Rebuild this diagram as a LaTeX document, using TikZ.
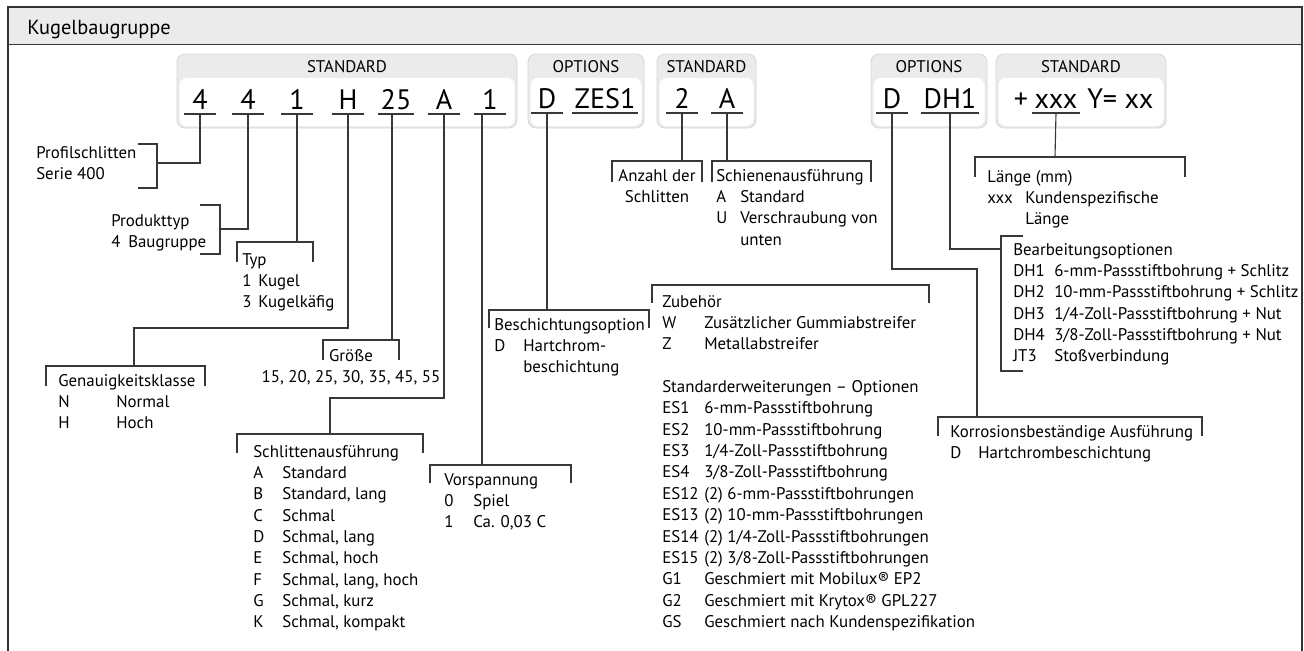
\documentclass[tikz,border=0pt]{standalone}
\usepackage{fontspec}
\setmainfont{PT Sans}
\definecolor{bandgray}{HTML}{EBEBEB}
\definecolor{boxedge}{HTML}{D6D6D6}
\definecolor{linegray}{HTML}{383838}
\newcommand\keylist[2]{\begin{tabular}[t]{@{}p{#1}@{}l@{}}#2\end{tabular}}
\newcommand\keyhead[1]{\multicolumn{2}{@{}l@{}}{#1}}

\begin{document}
\begin{tikzpicture}[x=0.025cm,y=-0.025cm,
    txt/.style={anchor=base west,inner sep=0pt,font=\fontsize{12}{15.2}\selectfont},
    ctxt/.style={txt,anchor=base},
    code/.style={anchor=south,inner xsep=0.05cm,inner ysep=0pt,minimum width=0.775cm,text depth=0.1cm,font=\fontsize{20}{20}\selectfont},
    head/.style={anchor=base,inner sep=0pt,font=\fontsize{12}{14}\selectfont},
    bracket/.style={draw=linegray,line width=0.8pt},
    link/.style={draw=linegray,line width=0.8pt},
    codebox/.style={fill=bandgray,draw=boxedge,line width=0.6pt,rounded corners=0.2cm}]
  \useasboundingbox (0,0) rectangle (1304,651);

  % frame and title band
  \fill[bandgray] (8,7) rectangle (1302,44);
  \draw[line width=0.6pt,draw=linegray] (8,44) -- (1302,44);
  \draw[line width=1.4pt,draw=black!80] (8,655) -- (8,7) -- (1302,7) -- (1302,655);
  \node[txt,font=\fontsize{14.5}{17}\selectfont] (title) at (27,34) {Kugelbaugruppe};

  % code boxes
  \foreach \l/\r/\t in {177/517/STANDARD,528/644/OPTIONS,657/756/STANDARD,871/987/OPTIONS,996/1166/STANDARD} {
    \draw[codebox] (\l,54) rectangle (\r,128);
    \fill[white,rounded corners=0.18cm] (\l+2.5,78) rectangle (\r-2.5,126);
    \node[head] (h\l) at ({(\l+\r)/2},72) {\t};
  }

  % code characters
  \node[code] (c1) at (200,114) {4};
  \node[code] (c2) at (248,114) {4};
  \node[code] (c3) at (297,114) {1};
  \node[code] (c4) at (348,114) {H};
  \node[code] (c5) at (396,114) {25};
  \node[code] (c6) at (444,114) {A};
  \node[code] (c7) at (490,114) {1};
  \node[code] (o1) at (547,113) {D};
  \node[code] (o2) at (605,113) {ZES1};
  \node[code] (s1) at (682,113) {2};
  \node[code] (s2) at (727,113) {A};
  \node[code] (p1) at (892,113) {D};
  \node[code] (p2) at (950,113) {DH1};
  \node[code] (plus) at (1021,113) {+};
  \node[code] (cx) at (1056,113) {xxx};
  \node[code,anchor=south west,inner xsep=0pt] (yv) at (1087,113) {Y= xx};
  \foreach \n in {c1,c2,c3,c4,c5,c6,c7,o1,o2,s1,s2,p1,p2,cx}
    \draw[link] (\n.south west) -- (\n.south east);

  % Profilschlitten
  \draw[bracket] (138,144) -| (157,188) -- (138,188);
  \coordinate (kPro) at (157,163);
  \draw[link] (c1.south) |- (kPro);
  \node[txt] (pro) at (36,158) {\begin{tabular}[t]{@{}l@{}}Profilschlitten\\Serie 400\end{tabular}};

  % Produkttyp
  \draw[bracket] (200,205) -| (220,254) -- (200,254);
  \coordinate (kProd) at (220,229);
  \draw[link] (c2.south) |- (kProd);
  \node[txt] (prod) at (111,226) {\keylist{0.425cm}{\keyhead{Produkttyp}\\4&Baugruppe}};

  % Typ
  \draw[bracket] (237,262) |- (313,242) -- (313,262);
  \coordinate (kTyp) at (297,242);
  \draw[link] (c3.south) -- (kTyp);
  \node[txt] (typ) at (242,265) {\keylist{0.4cm}{\keyhead{Typ}\\1&Kugel\\3&Kugelkäfig}};

  % Genauigkeitsklasse
  \draw[bracket] (46,386) |- (205,366) -- (205,386);
  \coordinate (kGen) at (134,366);
  \draw[link] (c4.south) -- ++(0,214) -| (kGen);
  \node[txt] (gen) at (58,386) {\keylist{1.45cm}{\keyhead{Genauigkeitsklasse}\\N&Normal\\H&Hoch}};

  % Groesse
  \draw[bracket] (323,360) |- (399,340) -- (399,360);
  \coordinate (kGr) at (392,340);
  \draw[link] (c5.south -| kGr) -- (kGr);
  \node[ctxt] (gr) at (351,361) {\begin{tabular}[t]{@{}c@{}}Größe\\15, 20, 25, 30, 35, 45, 55\end{tabular}};

  % Schlittenausfuehrung
  \draw[bracket] (237,453) |- (423,434) -- (423,453);
  \coordinate (kSchl) at (330,434);
  \draw[link] (c6.south) -- ++(0,284) -| (kSchl);
  \node[txt] (schl) at (253,457) {\keylist{0.725cm}{\keyhead{Schlittenausführung}\\
    A&Standard\\B&Standard, lang\\C&Schmal\\D&Schmal, lang\\E&Schmal, hoch\\
    F&Schmal, lang, hoch\\G&Schmal, kurz\\K&Schmal, kompakt}};

  % Vorspannung
  \draw[bracket] (430,483) |- (571,465) -- (571,483);
  \coordinate (kVor) at (482,465);
  \draw[link] (c7.south -| kVor) -- (kVor);
  \node[txt] (vor) at (444,485) {\keylist{0.725cm}{\keyhead{Vorspannung}\\0&Spiel\\1&Ca. 0,03 C}};

  % Beschichtungsoption
  \draw[bracket] (489,328) |- (649,310) -- (649,328);
  \coordinate (kBes) at (547,310);
  \draw[link] (o1.south) -- (kBes);
  \node[txt] (bes) at (494,330) {\keylist{0.725cm}{\keyhead{Beschichtungsoption}\\D&Hartchrom-\\&beschichtung}};

  % Zubehoer
  \draw[bracket] (652,303) |- (929,285) -- (929,303);
  \node[txt] (zub) at (662,307) {\keylist{1.05cm}{\keyhead{Zubehör}\\
    W&Zusätzlicher Gummiabstreifer\\Z&Metallabstreifer\\&\\
    \keyhead{Standarderweiterungen – Optionen}\\
    ES1&6-mm-Passstiftbohrung\\ES2&10-mm-Passstiftbohrung\\
    ES3&1/4-Zoll-Passstiftbohrung\\ES4&3/8-Zoll-Passstiftbohrung\\
    ES12&(2) 6-mm-Passstiftbohrungen\\ES13&(2) 10-mm-Passstiftbohrungen\\
    ES14&(2) 1/4-Zoll-Passstiftbohrungen\\ES15&(2) 3/8-Zoll-Passstiftbohrungen\\
    G1&Geschmiert mit Mobilux® EP2\\G2&Geschmiert mit Krytox® GPL227\\
    GS&Geschmiert nach Kundenspezifikation}};

  % Anzahl der Schlitten
  \draw[bracket] (612,182) |- (702,161) -- (702,182);
  \coordinate (kAnz) at (682,161);
  \draw[link] (s1.south) -- (kAnz);
  \node[ctxt] (anz) at (657,181) {\begin{tabular}[t]{@{}c@{}}Anzahl der\\Schlitten\end{tabular}};

  % Schienenausfuehrung
  \draw[bracket] (712,182) |- (871,161) -- (871,182);
  \coordinate (kSch) at (727,161);
  \draw[link] (s2.south) -- (kSch);
  \node[txt] (sch) at (716,181) {\keylist{0.6cm}{\keyhead{Schienenausführung}\\
    A&Standard\\U&Verschraubung von\\&unten}};

  % Korrosionsbestaendige Ausfuehrung
  \draw[bracket] (938,436) |- (1202,417) -- (1202,436);
  \coordinate (kKor) at (977,417);
  \draw[link] (p1.south) -- ++(0,156) -| (kKor);
  \node[txt] (kor) at (950,437) {\keylist{0.7cm}{\keyhead{Korrosionsbeständige Ausführung}\\D&Hartchrombeschichtung}};

  % Bearbeitungsoptionen
  \draw[bracket] (1023,236) -| (1001,371) -- (1023,371);
  \coordinate (kBea) at (1001,249);
  \draw[link] (p2.south) |- (kBea);
  \node[txt] (bea) at (1013,255) {\keylist{1.025cm}{\keyhead{Bearbeitungsoptionen}\\
    DH1&6-mm-Passstiftbohrung + Schlitz\\DH2&10-mm-Passstiftbohrung + Schlitz\\
    DH3&1/4-Zoll-Passstiftbohrung + Nut\\DH4&3/8-Zoll-Passstiftbohrung + Nut\\
    JT3&Stoßverbindung}};

  % Laenge
  \draw[bracket] (975,177) |- (1185,157) -- (1185,177);
  \coordinate (kLen) at (1055,157);
  \draw[link] (cx.south) -- (kLen);
  \node[txt] (lae) at (987,182) {\keylist{0.95cm}{\keyhead{Länge (mm)}\\xxx&Kundenspezifische\\&Länge}};
\end{tikzpicture}
\end{document}
